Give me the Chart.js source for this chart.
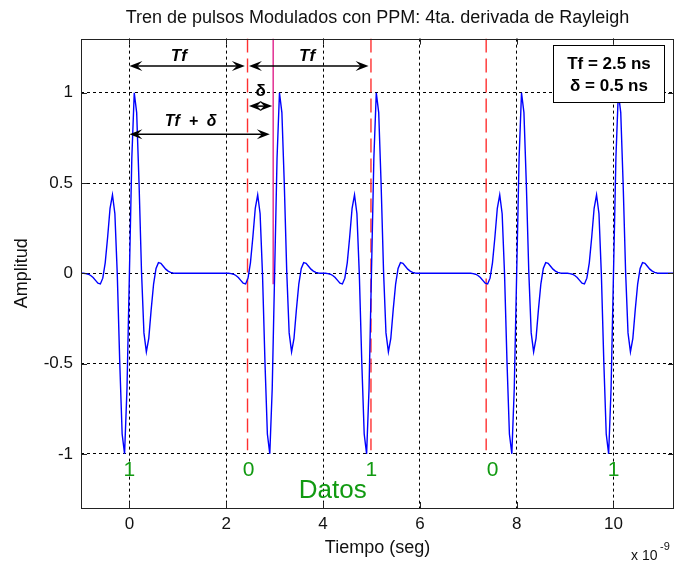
<!DOCTYPE html>
<html><head><meta charset="utf-8">
<script src="https://cdn.jsdelivr.net/npm/chart.js@4.4.1/dist/chart.umd.min.js"></script>
<style>html,body{margin:0;padding:0;background:#fff;}#wrap{width:678px;height:569px;}</style>
</head><body><div id="wrap"><canvas id="c" width="678" height="569"></canvas></div>
<script>
// ---- data (time in ns, shown with x 10^-9 multiplier) ----
const titleText = 'Tren de pulsos Modulados con PPM: 4ta. derivada de Rayleigh';
const xTicks = [0, 2, 4, 6, 8, 10];
const yTicks = [-1, -0.5, 0, 0.5, 1];
const xRange = [-1, 11.25];
const yRange = [-1.3, 1.3];
const bits = ['1', '0', '1', '0', '1'];
const bitTimes = [0, 2.46, 5.0, 7.5, 10.0];
const pulseCenters = [0, 3, 5, 8, 10];
const pulseOffsets = [-1.0,-0.95,-0.9,-0.85,-0.8,-0.75,-0.7,-0.65,-0.6,-0.55,-0.5,-0.45,-0.4,-0.35,-0.3,-0.25,-0.2,-0.15,-0.1,-0.05,0,
  0.05,0.1,0.15,0.2,0.25,0.3,0.35,0.4,0.45,0.5,0.55,0.6,0.65,0.7,0.75,0.8,0.85,0.9,0.95,1.0];
const pulseShape = [0,0,-0.002,-0.005,-0.012,-0.023,-0.039,-0.055,-0.059,-0.027,0.058,0.20,0.36,0.435,0.33,-0.01,-0.49,-0.89,-1,-0.64,0,
  0.64,1,0.89,0.49,0.01,-0.33,-0.435,-0.36,-0.20,-0.058,0.027,0.059,0.055,0.039,0.023,0.012,0.005,0.002,0,0];
const frameMarkTimes = [2.44, 4.99, 7.37];
const frameMarkBottom = -0.98;
const delayMarkTime = [2.97];
const delayMarkBottom = -0.06;

// ---- build the waveform table ----
const wave = [];
pulseCenters.forEach(c => pulseOffsets.forEach((o, i) => wave.push({x: +(c + o).toFixed(3), y: pulseShape[i]})));
wave.push({x: xRange[1], y: 0});
wave.sort((a, b) => a.x - b.x);

const FONT = '"Liberation Sans", Arial, sans-serif';

// ---- annotations (data coordinates) ----
const arrows = [
  {x1: 0, x2: 2.385, y: 1.148},
  {x1: 2.47, x2: 4.94, y: 1.148},
  {x1: 2.47, x2: 2.95, y: 0.926},
  {x1: 0, x2: 2.90, y: 0.77}
];
const labels = [
  {text: 'Tf', x: 1.02, y: 1.2, font: 'italic bold 17px ' + FONT, color: '#000'},
  {text: 'Tf', x: 3.67, y: 1.2, font: 'italic bold 17px ' + FONT, color: '#000'},
  {text: 'δ', x: 2.71, y: 1.01, font: 'bold 17px ' + FONT, color: '#000'},
  {text: 'Tf  +  δ', x: 1.265, y: 0.843, font: 'italic bold 16px ' + FONT, color: '#000'},
  {text: 'Datos', x: 4.2, y: -1.205, font: '26px ' + FONT, color: '#119a11'}
];
const infoBox = {x1: 8.76, x2: 11.05, y1: 1.264, y2: 0.949, lines: ['Tf = 2.5 ns', 'δ = 0.5 ns']};
const bitLabelY = -1.09;

const vlines = frameMarkTimes.map(t => ({
  data: [{x: t, y: yRange[1]}, {x: t, y: frameMarkBottom}],
  borderColor: '#ff3030', borderWidth: 1.4, borderDash: [14, 6], pointRadius: 0, order: 3
}));
vlines.push({
  data: [{x: delayMarkTime[0], y: yRange[1]}, {x: delayMarkTime[0], y: delayMarkBottom}],
  borderColor: '#e0208a', borderWidth: 1.4, pointRadius: 0, order: 3
});

function arrowHead(ctx, x, y, dir) {
  const L = 13, W = 5, N = 5;
  ctx.beginPath();
  ctx.moveTo(x, y);
  ctx.lineTo(x - dir * L, y - W);
  ctx.lineTo(x - dir * (L - N), y);
  ctx.lineTo(x - dir * L, y + W);
  ctx.closePath();
  ctx.fill();
}

const decor = {
  id: 'decor',
  afterDraw(chart) {
    const {ctx, chartArea: a, scales: {x, y}} = chart;
    ctx.save();
    // frame + inward ticks
    ctx.strokeStyle = '#222'; ctx.lineWidth = 1; ctx.setLineDash([]);
    ctx.strokeRect(Math.round(a.left) + 0.5, Math.round(a.top) + 0.5, Math.round(a.right - a.left) - 1, Math.round(a.bottom - a.top));
    ctx.beginPath();
    xTicks.forEach(v => {
      const px = Math.round(x.getPixelForValue(v)) + 0.5;
      ctx.moveTo(px, a.bottom); ctx.lineTo(px, a.bottom - 6);
      ctx.moveTo(px, a.top); ctx.lineTo(px, a.top + 6);
    });
    yTicks.forEach(v => {
      const py = Math.round(y.getPixelForValue(v)) + 0.5;
      ctx.moveTo(a.left, py); ctx.lineTo(a.left + 6, py);
      ctx.moveTo(a.right, py); ctx.lineTo(a.right - 6, py);
    });
    ctx.stroke();
    // arrows
    ctx.strokeStyle = '#000'; ctx.fillStyle = '#000'; ctx.lineWidth = 1.5;
    arrows.forEach(ar => {
      const x1 = x.getPixelForValue(ar.x1), x2 = x.getPixelForValue(ar.x2), py = y.getPixelForValue(ar.y);
      ctx.beginPath(); ctx.moveTo(x1 + 4, py); ctx.lineTo(x2 - 4, py); ctx.stroke();
      arrowHead(ctx, x1, py, -1);
      arrowHead(ctx, x2, py, 1);
    });
    // labels
    ctx.textAlign = 'center'; ctx.textBaseline = 'middle';
    labels.forEach(l => {
      ctx.font = l.font; ctx.fillStyle = l.color;
      ctx.fillText(l.text, x.getPixelForValue(l.x), y.getPixelForValue(l.y));
    });
    // bit labels
    ctx.font = '21px ' + FONT; ctx.fillStyle = '#119a11';
    bits.forEach((b, i) => ctx.fillText(b, x.getPixelForValue(bitTimes[i]), y.getPixelForValue(bitLabelY)));
    // info box
    const bx1 = Math.round(x.getPixelForValue(infoBox.x1)) + 0.5, bx2 = Math.round(x.getPixelForValue(infoBox.x2)) + 0.5;
    const by1 = Math.round(y.getPixelForValue(infoBox.y1)) + 0.5, by2 = Math.round(y.getPixelForValue(infoBox.y2)) + 0.5;
    ctx.fillStyle = '#fff'; ctx.fillRect(bx1, by1, bx2 - bx1, by2 - by1);
    ctx.strokeStyle = '#000'; ctx.lineWidth = 1; ctx.strokeRect(bx1, by1, bx2 - bx1, by2 - by1);
    ctx.fillStyle = '#000'; ctx.font = 'bold 17px ' + FONT;
    const cx = (bx1 + bx2) / 2, h = (by2 - by1);
    ctx.fillText(infoBox.lines[0], cx, by1 + h * 0.33);
    ctx.fillText(infoBox.lines[1], cx, by1 + h * 0.72);
    // exponent
    ctx.fillStyle = '#111'; ctx.textAlign = 'left';
    ctx.font = '14px ' + FONT;
    ctx.fillText('x 10', 631, 556);
    ctx.font = '11px ' + FONT;
    ctx.fillText('-9', 660, 547);
    ctx.restore();
  }
};

new Chart(document.getElementById('c').getContext('2d'), {
  type: 'line',
  data: {datasets: [
    {data: wave, borderColor: '#0000ff', borderWidth: 1.4, pointRadius: 0, tension: 0, order: 1},
    ...vlines
  ]},
  options: {
    animation: false, responsive: false, devicePixelRatio: 1,
    layout: {padding: {left: 0, right: 4, top: 0, bottom: 0}},
    plugins: {
      legend: {display: false}, tooltip: {enabled: false},
      title: {display: true, fullSize: false, text: titleText, color: '#111', font: {family: FONT, size: 18, weight: 'normal'}, padding: {top: 7, bottom: 10}}
    },
    scales: {
      x: {
        type: 'linear', min: xRange[0], max: xRange[1],
        afterBuildTicks: s => { s.ticks = xTicks.map(v => ({value: v})); },
        afterFit: s => { s.height = 61; },
        grid: {color: '#000', lineWidth: 1, drawTicks: false},
        border: {display: false, dash: [3, 3]},
        ticks: {color: '#111', font: {family: FONT, size: 17}, padding: 6, maxRotation: 0, callback: v => String(v)},
        title: {display: true, text: 'Tiempo (seg)', color: '#111', font: {family: FONT, size: 18}, padding: {top: 0, bottom: 10}}
      },
      y: {
        type: 'linear', min: yRange[0], max: yRange[1],
        afterBuildTicks: s => { s.ticks = yTicks.map(v => ({value: v})); },
        afterFit: s => { s.width = 81; },
        grid: {color: '#000', lineWidth: 1, drawTicks: false},
        border: {display: false, dash: [3, 3]},
        ticks: {color: '#111', font: {family: FONT, size: 17}, padding: 8, callback: v => String(v)},
        title: {display: true, text: 'Amplitud', color: '#111', font: {family: FONT, size: 18}, padding: {top: 11, bottom: 0}}
      }
    }
  },
  plugins: [decor]
});
</script></body></html>
